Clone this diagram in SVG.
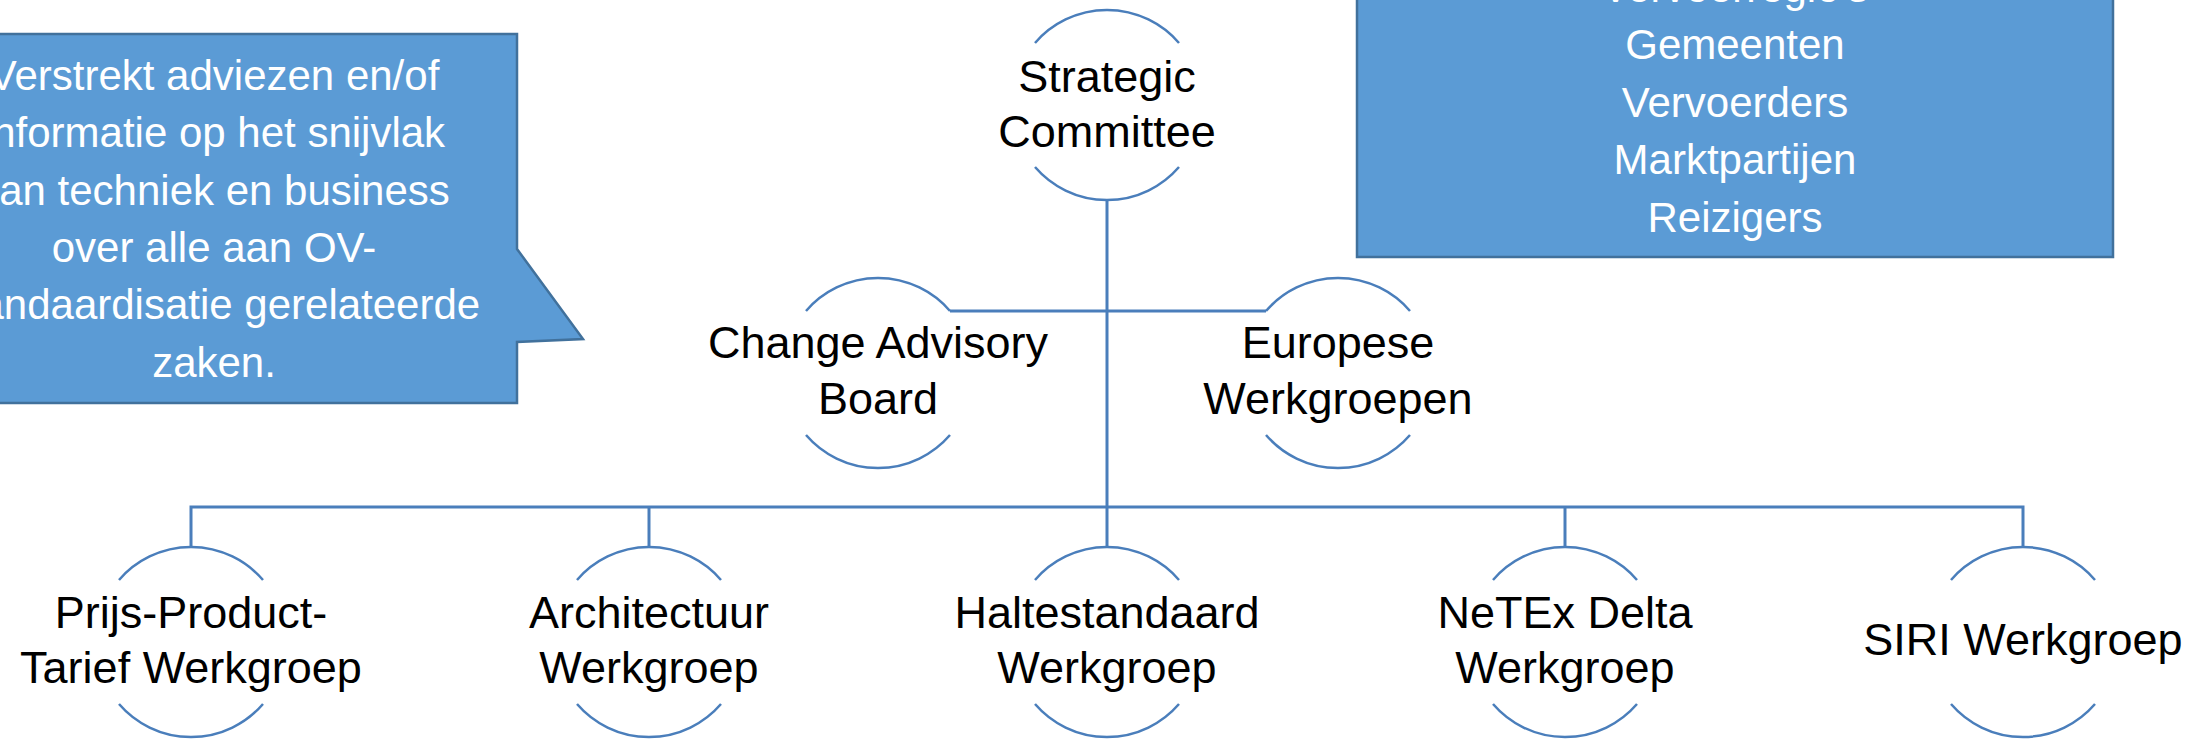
<svg xmlns="http://www.w3.org/2000/svg" width="2203" height="739" viewBox="0 0 2203 739">
  <style>
    .bg { fill: #ffffff; }
    .shape { fill: #5B9BD5; stroke: #41719C; stroke-width: 2.5; }
    .arc { fill: none; stroke: #4A7EBB; stroke-width: 2.5; }
    .conn { fill: none; stroke: #4A7EBB; stroke-width: 3; }
    .lbl { font-family: "Liberation Sans", Arial, sans-serif; font-size: 45px; fill: #000000; text-anchor: middle; }
    .wtxt { font-family: "Liberation Sans", Arial, sans-serif; font-size: 42px; fill: #ffffff; text-anchor: middle; }
  </style>
  <rect class="bg" x="0" y="0" width="2203" height="739"/>

  <g id="callout">
    <path class="shape" d="M -89,34 H 517 V 249 L 583,339 L 517,342 V 403 H -89 Z"/>
    <text class="wtxt" x="214" y="90">Verstrekt adviezen en/of</text>
    <text class="wtxt" x="214" y="147">informatie op het snijvlak</text>
    <text class="wtxt" x="214" y="205">van techniek en business</text>
    <text class="wtxt" x="214" y="262">over alle aan OV-</text>
    <text class="wtxt" x="214" y="319">standaardisatie gerelateerde</text>
    <text class="wtxt" x="214" y="377">zaken.</text>
  </g>

  <g id="stakeholders">
    <rect class="shape" x="1357" y="-60" width="756" height="317"/>
    <text class="wtxt" x="1735" y="2">Vervoerregio's</text>
    <text class="wtxt" x="1735" y="59">Gemeenten</text>
    <text class="wtxt" x="1735" y="117">Vervoerders</text>
    <text class="wtxt" x="1735" y="174">Marktpartijen</text>
    <text class="wtxt" x="1735" y="232">Reizigers</text>
  </g>

  <g id="connectors">
    <path class="conn" d="M 1107,200 V 547"/>
    <path class="conn" d="M 950,311 H 1266"/>
    <path class="conn" d="M 191,547 V 507 H 2023 V 547"/>
    <path class="conn" d="M 649,507 V 547"/>
    <path class="conn" d="M 1565,507 V 547"/>
  </g>

  <g id="strategic-committee">
    <path class="arc" d="M 1035,43 A 95 95 0 0 1 1179,43"/>
    <path class="arc" d="M 1035,167 A 95 95 0 0 0 1179,167"/>
    <text class="lbl" x="1107" y="92">Strategic</text>
    <text class="lbl" x="1107" y="147">Committee</text>
  </g>

  <g id="change-advisory-board">
    <path class="arc" d="M 806,311 A 95 95 0 0 1 950,311"/>
    <path class="arc" d="M 806,435 A 95 95 0 0 0 950,435"/>
    <text class="lbl" x="878" y="358">Change Advisory</text>
    <text class="lbl" x="878" y="414">Board</text>
  </g>

  <g id="europese-werkgroepen">
    <path class="arc" d="M 1266,311 A 95 95 0 0 1 1410,311"/>
    <path class="arc" d="M 1266,435 A 95 95 0 0 0 1410,435"/>
    <text class="lbl" x="1338" y="358">Europese</text>
    <text class="lbl" x="1338" y="414">Werkgroepen</text>
  </g>

  <g id="prijs-product-tarief">
    <path class="arc" d="M 119,580 A 95 95 0 0 1 263,580"/>
    <path class="arc" d="M 119,704 A 95 95 0 0 0 263,704"/>
    <text class="lbl" x="191" y="628">Prijs-Product-</text>
    <text class="lbl" x="191" y="683">Tarief Werkgroep</text>
  </g>

  <g id="architectuur">
    <path class="arc" d="M 577,580 A 95 95 0 0 1 721,580"/>
    <path class="arc" d="M 577,704 A 95 95 0 0 0 721,704"/>
    <text class="lbl" x="649" y="628">Architectuur</text>
    <text class="lbl" x="649" y="683">Werkgroep</text>
  </g>

  <g id="haltestandaard">
    <path class="arc" d="M 1035,580 A 95 95 0 0 1 1179,580"/>
    <path class="arc" d="M 1035,704 A 95 95 0 0 0 1179,704"/>
    <text class="lbl" x="1107" y="628">Haltestandaard</text>
    <text class="lbl" x="1107" y="683">Werkgroep</text>
  </g>

  <g id="netex-delta">
    <path class="arc" d="M 1493,580 A 95 95 0 0 1 1637,580"/>
    <path class="arc" d="M 1493,704 A 95 95 0 0 0 1637,704"/>
    <text class="lbl" x="1565" y="628">NeTEx Delta</text>
    <text class="lbl" x="1565" y="683">Werkgroep</text>
  </g>

  <g id="siri">
    <path class="arc" d="M 1951,580 A 95 95 0 0 1 2095,580"/>
    <path class="arc" d="M 1951,704 A 95 95 0 0 0 2095,704"/>
    <text class="lbl" x="2023" y="655">SIRI Werkgroep</text>
  </g>
</svg>
